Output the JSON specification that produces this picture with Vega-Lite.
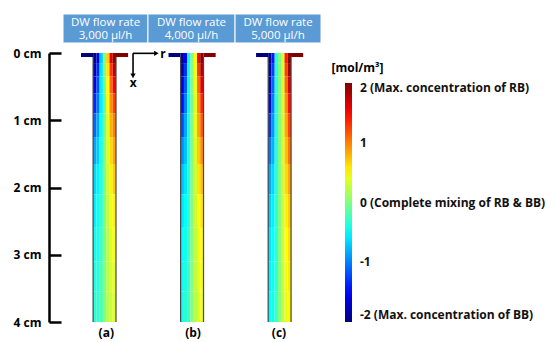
{
  "$schema": "https://vega.github.io/schema/vega-lite/v6.json",
  "width": 505,
  "height": 269,
  "autosize": {"type": "none"},
  "padding": {"left": 49, "top": 53, "right": 1, "bottom": 20},
  "background": "white",
  "config": {"font": "Open Sans", "view": {"stroke": null}},
  "datasets": {
    "heads": [
      {"x0": 2.08, "x1": 14.7, "y0": -0.58, "y1": -0.149},
      {"x0": 14.7, "x1": 27.63, "y0": -0.58, "y1": -0.149},
      {"x0": 27.63, "x1": 40.4, "y0": -0.58, "y1": -0.149}
    ],
    "htext": [
      {"xc": 8.39, "yc": -0.452, "t": "DW flow rate"},
      {"xc": 8.39, "yc": -0.248, "t": "3,000 μl/h"},
      {"xc": 21.16, "yc": -0.452, "t": "DW flow rate"},
      {"xc": 21.16, "yc": -0.248, "t": "4,000 μl/h"},
      {"xc": 34.01, "yc": -0.452, "t": "DW flow rate"},
      {"xc": 34.01, "yc": -0.248, "t": "5,000 μl/h"}
    ],
    "cells": [
      {"ch":"a","r0":4.75,"r1":6.55,"d0":0,"d1":0.06,"c":-2},
      {"ch":"a","r0":9.95,"r1":11.75,"d0":0,"d1":0.06,"c":2},
      {"ch":"b","r0":17.75,"r1":19.55,"d0":0,"d1":0.06,"c":-2},
      {"ch":"b","r0":22.95,"r1":24.75,"d0":0,"d1":0.06,"c":2},
      {"ch":"c","r0":30.75,"r1":32.55,"d0":0,"d1":0.06,"c":-2},
      {"ch":"c","r0":35.95,"r1":37.75,"d0":0,"d1":0.06,"c":2},

      {"ch":"a","r0":6.55,"r1":7.04,"d0":0,"d1":0.15,"c":-1.95},
      {"ch":"a","r0":7.04,"r1":7.52,"d0":0,"d1":0.15,"c":-1.6},
      {"ch":"a","r0":7.52,"r1":8.01,"d0":0,"d1":0.15,"c":-0.7},
      {"ch":"a","r0":8.01,"r1":8.49,"d0":0,"d1":0.15,"c":0},
      {"ch":"a","r0":8.49,"r1":8.98,"d0":0,"d1":0.15,"c":0.7},
      {"ch":"a","r0":8.98,"r1":9.46,"d0":0,"d1":0.15,"c":1.6},
      {"ch":"a","r0":9.46,"r1":9.95,"d0":0,"d1":0.15,"c":1.95},
      {"ch":"a","r0":6.55,"r1":7.04,"d0":0.15,"d1":0.35,"c":-1.8},
      {"ch":"a","r0":7.04,"r1":7.52,"d0":0.15,"d1":0.35,"c":-1.35},
      {"ch":"a","r0":7.52,"r1":8.01,"d0":0.15,"d1":0.35,"c":-0.6},
      {"ch":"a","r0":8.01,"r1":8.49,"d0":0.15,"d1":0.35,"c":0},
      {"ch":"a","r0":8.49,"r1":8.98,"d0":0.15,"d1":0.35,"c":0.6},
      {"ch":"a","r0":8.98,"r1":9.46,"d0":0.15,"d1":0.35,"c":1.3},
      {"ch":"a","r0":9.46,"r1":9.95,"d0":0.15,"d1":0.35,"c":1.75},
      {"ch":"a","r0":6.55,"r1":7.04,"d0":0.35,"d1":0.6,"c":-1.6},
      {"ch":"a","r0":7.04,"r1":7.52,"d0":0.35,"d1":0.6,"c":-1.2},
      {"ch":"a","r0":7.52,"r1":8.01,"d0":0.35,"d1":0.6,"c":-0.55},
      {"ch":"a","r0":8.01,"r1":8.49,"d0":0.35,"d1":0.6,"c":-0.05},
      {"ch":"a","r0":8.49,"r1":8.98,"d0":0.35,"d1":0.6,"c":0.5},
      {"ch":"a","r0":8.98,"r1":9.46,"d0":0.35,"d1":0.6,"c":1.1},
      {"ch":"a","r0":9.46,"r1":9.95,"d0":0.35,"d1":0.6,"c":1.5},
      {"ch":"a","r0":6.55,"r1":7.04,"d0":0.6,"d1":0.9,"c":-1.35},
      {"ch":"a","r0":7.04,"r1":7.52,"d0":0.6,"d1":0.9,"c":-1.05},
      {"ch":"a","r0":7.52,"r1":8.01,"d0":0.6,"d1":0.9,"c":-0.55},
      {"ch":"a","r0":8.01,"r1":8.49,"d0":0.6,"d1":0.9,"c":-0.1},
      {"ch":"a","r0":8.49,"r1":8.98,"d0":0.6,"d1":0.9,"c":0.45},
      {"ch":"a","r0":8.98,"r1":9.46,"d0":0.6,"d1":0.9,"c":0.95},
      {"ch":"a","r0":9.46,"r1":9.95,"d0":0.6,"d1":0.9,"c":1.25},
      {"ch":"a","r0":6.55,"r1":7.04,"d0":0.9,"d1":1.25,"c":-1.1},
      {"ch":"a","r0":7.04,"r1":7.52,"d0":0.9,"d1":1.25,"c":-0.85},
      {"ch":"a","r0":7.52,"r1":8.01,"d0":0.9,"d1":1.25,"c":-0.45},
      {"ch":"a","r0":8.01,"r1":8.49,"d0":0.9,"d1":1.25,"c":-0.05},
      {"ch":"a","r0":8.49,"r1":8.98,"d0":0.9,"d1":1.25,"c":0.4},
      {"ch":"a","r0":8.98,"r1":9.46,"d0":0.9,"d1":1.25,"c":0.8},
      {"ch":"a","r0":9.46,"r1":9.95,"d0":0.9,"d1":1.25,"c":1.0},
      {"ch":"a","r0":6.55,"r1":7.04,"d0":1.25,"d1":1.65,"c":-0.85},
      {"ch":"a","r0":7.04,"r1":7.52,"d0":1.25,"d1":1.65,"c":-0.7},
      {"ch":"a","r0":7.52,"r1":8.01,"d0":1.25,"d1":1.65,"c":-0.4},
      {"ch":"a","r0":8.01,"r1":8.49,"d0":1.25,"d1":1.65,"c":0},
      {"ch":"a","r0":8.49,"r1":8.98,"d0":1.25,"d1":1.65,"c":0.35},
      {"ch":"a","r0":8.98,"r1":9.46,"d0":1.25,"d1":1.65,"c":0.65},
      {"ch":"a","r0":9.46,"r1":9.95,"d0":1.25,"d1":1.65,"c":0.85},
      {"ch":"a","r0":6.55,"r1":7.04,"d0":1.65,"d1":2.1,"c":-0.65},
      {"ch":"a","r0":7.04,"r1":7.52,"d0":1.65,"d1":2.1,"c":-0.55},
      {"ch":"a","r0":7.52,"r1":8.01,"d0":1.65,"d1":2.1,"c":-0.35},
      {"ch":"a","r0":8.01,"r1":8.49,"d0":1.65,"d1":2.1,"c":0},
      {"ch":"a","r0":8.49,"r1":8.98,"d0":1.65,"d1":2.1,"c":0.3},
      {"ch":"a","r0":8.98,"r1":9.46,"d0":1.65,"d1":2.1,"c":0.55},
      {"ch":"a","r0":9.46,"r1":9.95,"d0":1.65,"d1":2.1,"c":0.7},
      {"ch":"a","r0":6.55,"r1":7.04,"d0":2.1,"d1":2.6,"c":-0.55},
      {"ch":"a","r0":7.04,"r1":7.52,"d0":2.1,"d1":2.6,"c":-0.45},
      {"ch":"a","r0":7.52,"r1":8.01,"d0":2.1,"d1":2.6,"c":-0.3},
      {"ch":"a","r0":8.01,"r1":8.49,"d0":2.1,"d1":2.6,"c":0},
      {"ch":"a","r0":8.49,"r1":8.98,"d0":2.1,"d1":2.6,"c":0.25},
      {"ch":"a","r0":8.98,"r1":9.46,"d0":2.1,"d1":2.6,"c":0.45},
      {"ch":"a","r0":9.46,"r1":9.95,"d0":2.1,"d1":2.6,"c":0.55},
      {"ch":"a","r0":6.55,"r1":7.04,"d0":2.6,"d1":3.1,"c":-0.45},
      {"ch":"a","r0":7.04,"r1":7.52,"d0":2.6,"d1":3.1,"c":-0.4},
      {"ch":"a","r0":7.52,"r1":8.01,"d0":2.6,"d1":3.1,"c":-0.25},
      {"ch":"a","r0":8.01,"r1":8.49,"d0":2.6,"d1":3.1,"c":0},
      {"ch":"a","r0":8.49,"r1":8.98,"d0":2.6,"d1":3.1,"c":0.2},
      {"ch":"a","r0":8.98,"r1":9.46,"d0":2.6,"d1":3.1,"c":0.4},
      {"ch":"a","r0":9.46,"r1":9.95,"d0":2.6,"d1":3.1,"c":0.48},
      {"ch":"a","r0":6.55,"r1":7.04,"d0":3.1,"d1":3.55,"c":-0.4},
      {"ch":"a","r0":7.04,"r1":7.52,"d0":3.1,"d1":3.55,"c":-0.35},
      {"ch":"a","r0":7.52,"r1":8.01,"d0":3.1,"d1":3.55,"c":-0.2},
      {"ch":"a","r0":8.01,"r1":8.49,"d0":3.1,"d1":3.55,"c":0},
      {"ch":"a","r0":8.49,"r1":8.98,"d0":3.1,"d1":3.55,"c":0.2},
      {"ch":"a","r0":8.98,"r1":9.46,"d0":3.1,"d1":3.55,"c":0.35},
      {"ch":"a","r0":9.46,"r1":9.95,"d0":3.1,"d1":3.55,"c":0.42},
      {"ch":"a","r0":6.55,"r1":7.04,"d0":3.55,"d1":4,"c":-0.35},
      {"ch":"a","r0":7.04,"r1":7.52,"d0":3.55,"d1":4,"c":-0.3},
      {"ch":"a","r0":7.52,"r1":8.01,"d0":3.55,"d1":4,"c":-0.2},
      {"ch":"a","r0":8.01,"r1":8.49,"d0":3.55,"d1":4,"c":0},
      {"ch":"a","r0":8.49,"r1":8.98,"d0":3.55,"d1":4,"c":0.2},
      {"ch":"a","r0":8.98,"r1":9.46,"d0":3.55,"d1":4,"c":0.3},
      {"ch":"a","r0":9.46,"r1":9.95,"d0":3.55,"d1":4,"c":0.38},

      {"ch":"b","r0":19.55,"r1":20.04,"d0":0,"d1":0.15,"c":-1.95},
      {"ch":"b","r0":20.04,"r1":20.52,"d0":0,"d1":0.15,"c":-1.5},
      {"ch":"b","r0":20.52,"r1":21.01,"d0":0,"d1":0.15,"c":-0.5},
      {"ch":"b","r0":21.01,"r1":21.49,"d0":0,"d1":0.15,"c":0},
      {"ch":"b","r0":21.49,"r1":21.98,"d0":0,"d1":0.15,"c":0.5},
      {"ch":"b","r0":21.98,"r1":22.46,"d0":0,"d1":0.15,"c":1.5},
      {"ch":"b","r0":22.46,"r1":22.95,"d0":0,"d1":0.15,"c":1.95},
      {"ch":"b","r0":19.55,"r1":20.04,"d0":0.15,"d1":0.35,"c":-1.85},
      {"ch":"b","r0":20.04,"r1":20.52,"d0":0.15,"d1":0.35,"c":-1.3},
      {"ch":"b","r0":20.52,"r1":21.01,"d0":0.15,"d1":0.35,"c":-0.45},
      {"ch":"b","r0":21.01,"r1":21.49,"d0":0.15,"d1":0.35,"c":0},
      {"ch":"b","r0":21.49,"r1":21.98,"d0":0.15,"d1":0.35,"c":0.45},
      {"ch":"b","r0":21.98,"r1":22.46,"d0":0.15,"d1":0.35,"c":1.3},
      {"ch":"b","r0":22.46,"r1":22.95,"d0":0.15,"d1":0.35,"c":1.8},
      {"ch":"b","r0":19.55,"r1":20.04,"d0":0.35,"d1":0.6,"c":-1.65},
      {"ch":"b","r0":20.04,"r1":20.52,"d0":0.35,"d1":0.6,"c":-1.15},
      {"ch":"b","r0":20.52,"r1":21.01,"d0":0.35,"d1":0.6,"c":-0.45},
      {"ch":"b","r0":21.01,"r1":21.49,"d0":0.35,"d1":0.6,"c":0},
      {"ch":"b","r0":21.49,"r1":21.98,"d0":0.35,"d1":0.6,"c":0.45},
      {"ch":"b","r0":21.98,"r1":22.46,"d0":0.35,"d1":0.6,"c":1.1},
      {"ch":"b","r0":22.46,"r1":22.95,"d0":0.35,"d1":0.6,"c":1.6},
      {"ch":"b","r0":19.55,"r1":20.04,"d0":0.6,"d1":0.9,"c":-1.45},
      {"ch":"b","r0":20.04,"r1":20.52,"d0":0.6,"d1":0.9,"c":-1.0},
      {"ch":"b","r0":20.52,"r1":21.01,"d0":0.6,"d1":0.9,"c":-0.45},
      {"ch":"b","r0":21.01,"r1":21.49,"d0":0.6,"d1":0.9,"c":-0.05},
      {"ch":"b","r0":21.49,"r1":21.98,"d0":0.6,"d1":0.9,"c":0.4},
      {"ch":"b","r0":21.98,"r1":22.46,"d0":0.6,"d1":0.9,"c":0.95},
      {"ch":"b","r0":22.46,"r1":22.95,"d0":0.6,"d1":0.9,"c":1.35},
      {"ch":"b","r0":19.55,"r1":20.04,"d0":0.9,"d1":1.25,"c":-1.2},
      {"ch":"b","r0":20.04,"r1":20.52,"d0":0.9,"d1":1.25,"c":-0.85},
      {"ch":"b","r0":20.52,"r1":21.01,"d0":0.9,"d1":1.25,"c":-0.4},
      {"ch":"b","r0":21.01,"r1":21.49,"d0":0.9,"d1":1.25,"c":0},
      {"ch":"b","r0":21.49,"r1":21.98,"d0":0.9,"d1":1.25,"c":0.4},
      {"ch":"b","r0":21.98,"r1":22.46,"d0":0.9,"d1":1.25,"c":0.85},
      {"ch":"b","r0":22.46,"r1":22.95,"d0":0.9,"d1":1.25,"c":1.15},
      {"ch":"b","r0":19.55,"r1":20.04,"d0":1.25,"d1":1.65,"c":-0.95},
      {"ch":"b","r0":20.04,"r1":20.52,"d0":1.25,"d1":1.65,"c":-0.75},
      {"ch":"b","r0":20.52,"r1":21.01,"d0":1.25,"d1":1.65,"c":-0.4},
      {"ch":"b","r0":21.01,"r1":21.49,"d0":1.25,"d1":1.65,"c":0},
      {"ch":"b","r0":21.49,"r1":21.98,"d0":1.25,"d1":1.65,"c":0.35},
      {"ch":"b","r0":21.98,"r1":22.46,"d0":1.25,"d1":1.65,"c":0.7},
      {"ch":"b","r0":22.46,"r1":22.95,"d0":1.25,"d1":1.65,"c":0.95},
      {"ch":"b","r0":19.55,"r1":20.04,"d0":1.65,"d1":2.1,"c":-0.75},
      {"ch":"b","r0":20.04,"r1":20.52,"d0":1.65,"d1":2.1,"c":-0.6},
      {"ch":"b","r0":20.52,"r1":21.01,"d0":1.65,"d1":2.1,"c":-0.35},
      {"ch":"b","r0":21.01,"r1":21.49,"d0":1.65,"d1":2.1,"c":0},
      {"ch":"b","r0":21.49,"r1":21.98,"d0":1.65,"d1":2.1,"c":0.3},
      {"ch":"b","r0":21.98,"r1":22.46,"d0":1.65,"d1":2.1,"c":0.6},
      {"ch":"b","r0":22.46,"r1":22.95,"d0":1.65,"d1":2.1,"c":0.75},
      {"ch":"b","r0":19.55,"r1":20.04,"d0":2.1,"d1":2.6,"c":-0.6},
      {"ch":"b","r0":20.04,"r1":20.52,"d0":2.1,"d1":2.6,"c":-0.5},
      {"ch":"b","r0":20.52,"r1":21.01,"d0":2.1,"d1":2.6,"c":-0.3},
      {"ch":"b","r0":21.01,"r1":21.49,"d0":2.1,"d1":2.6,"c":0},
      {"ch":"b","r0":21.49,"r1":21.98,"d0":2.1,"d1":2.6,"c":0.3},
      {"ch":"b","r0":21.98,"r1":22.46,"d0":2.1,"d1":2.6,"c":0.5},
      {"ch":"b","r0":22.46,"r1":22.95,"d0":2.1,"d1":2.6,"c":0.6},
      {"ch":"b","r0":19.55,"r1":20.04,"d0":2.6,"d1":3.1,"c":-0.5},
      {"ch":"b","r0":20.04,"r1":20.52,"d0":2.6,"d1":3.1,"c":-0.45},
      {"ch":"b","r0":20.52,"r1":21.01,"d0":2.6,"d1":3.1,"c":-0.25},
      {"ch":"b","r0":21.01,"r1":21.49,"d0":2.6,"d1":3.1,"c":0},
      {"ch":"b","r0":21.49,"r1":21.98,"d0":2.6,"d1":3.1,"c":0.25},
      {"ch":"b","r0":21.98,"r1":22.46,"d0":2.6,"d1":3.1,"c":0.45},
      {"ch":"b","r0":22.46,"r1":22.95,"d0":2.6,"d1":3.1,"c":0.52},
      {"ch":"b","r0":19.55,"r1":20.04,"d0":3.1,"d1":3.55,"c":-0.45},
      {"ch":"b","r0":20.04,"r1":20.52,"d0":3.1,"d1":3.55,"c":-0.4},
      {"ch":"b","r0":20.52,"r1":21.01,"d0":3.1,"d1":3.55,"c":-0.25},
      {"ch":"b","r0":21.01,"r1":21.49,"d0":3.1,"d1":3.55,"c":0},
      {"ch":"b","r0":21.49,"r1":21.98,"d0":3.1,"d1":3.55,"c":0.25},
      {"ch":"b","r0":21.98,"r1":22.46,"d0":3.1,"d1":3.55,"c":0.4},
      {"ch":"b","r0":22.46,"r1":22.95,"d0":3.1,"d1":3.55,"c":0.47},
      {"ch":"b","r0":19.55,"r1":20.04,"d0":3.55,"d1":4,"c":-0.42},
      {"ch":"b","r0":20.04,"r1":20.52,"d0":3.55,"d1":4,"c":-0.36},
      {"ch":"b","r0":20.52,"r1":21.01,"d0":3.55,"d1":4,"c":-0.22},
      {"ch":"b","r0":21.01,"r1":21.49,"d0":3.55,"d1":4,"c":0},
      {"ch":"b","r0":21.49,"r1":21.98,"d0":3.55,"d1":4,"c":0.22},
      {"ch":"b","r0":21.98,"r1":22.46,"d0":3.55,"d1":4,"c":0.36},
      {"ch":"b","r0":22.46,"r1":22.95,"d0":3.55,"d1":4,"c":0.44},

      {"ch":"c","r0":32.55,"r1":33.04,"d0":0,"d1":0.15,"c":-1.95},
      {"ch":"c","r0":33.04,"r1":33.52,"d0":0,"d1":0.15,"c":-1.4},
      {"ch":"c","r0":33.52,"r1":34.01,"d0":0,"d1":0.15,"c":-0.35},
      {"ch":"c","r0":34.01,"r1":34.49,"d0":0,"d1":0.15,"c":0},
      {"ch":"c","r0":34.49,"r1":34.98,"d0":0,"d1":0.15,"c":0.35},
      {"ch":"c","r0":34.98,"r1":35.46,"d0":0,"d1":0.15,"c":1.4},
      {"ch":"c","r0":35.46,"r1":35.95,"d0":0,"d1":0.15,"c":1.95},
      {"ch":"c","r0":32.55,"r1":33.04,"d0":0.15,"d1":0.35,"c":-1.85},
      {"ch":"c","r0":33.04,"r1":33.52,"d0":0.15,"d1":0.35,"c":-1.25},
      {"ch":"c","r0":33.52,"r1":34.01,"d0":0.15,"d1":0.35,"c":-0.35},
      {"ch":"c","r0":34.01,"r1":34.49,"d0":0.15,"d1":0.35,"c":0},
      {"ch":"c","r0":34.49,"r1":34.98,"d0":0.15,"d1":0.35,"c":0.35},
      {"ch":"c","r0":34.98,"r1":35.46,"d0":0.15,"d1":0.35,"c":1.25},
      {"ch":"c","r0":35.46,"r1":35.95,"d0":0.15,"d1":0.35,"c":1.85},
      {"ch":"c","r0":32.55,"r1":33.04,"d0":0.35,"d1":0.6,"c":-1.7},
      {"ch":"c","r0":33.04,"r1":33.52,"d0":0.35,"d1":0.6,"c":-1.1},
      {"ch":"c","r0":33.52,"r1":34.01,"d0":0.35,"d1":0.6,"c":-0.35},
      {"ch":"c","r0":34.01,"r1":34.49,"d0":0.35,"d1":0.6,"c":0},
      {"ch":"c","r0":34.49,"r1":34.98,"d0":0.35,"d1":0.6,"c":0.35},
      {"ch":"c","r0":34.98,"r1":35.46,"d0":0.35,"d1":0.6,"c":1.1},
      {"ch":"c","r0":35.46,"r1":35.95,"d0":0.35,"d1":0.6,"c":1.65},
      {"ch":"c","r0":32.55,"r1":33.04,"d0":0.6,"d1":0.9,"c":-1.5},
      {"ch":"c","r0":33.04,"r1":33.52,"d0":0.6,"d1":0.9,"c":-1.0},
      {"ch":"c","r0":33.52,"r1":34.01,"d0":0.6,"d1":0.9,"c":-0.35},
      {"ch":"c","r0":34.01,"r1":34.49,"d0":0.6,"d1":0.9,"c":0},
      {"ch":"c","r0":34.49,"r1":34.98,"d0":0.6,"d1":0.9,"c":0.35},
      {"ch":"c","r0":34.98,"r1":35.46,"d0":0.6,"d1":0.9,"c":0.95},
      {"ch":"c","r0":35.46,"r1":35.95,"d0":0.6,"d1":0.9,"c":1.45},
      {"ch":"c","r0":32.55,"r1":33.04,"d0":0.9,"d1":1.25,"c":-1.3},
      {"ch":"c","r0":33.04,"r1":33.52,"d0":0.9,"d1":1.25,"c":-0.9},
      {"ch":"c","r0":33.52,"r1":34.01,"d0":0.9,"d1":1.25,"c":-0.35},
      {"ch":"c","r0":34.01,"r1":34.49,"d0":0.9,"d1":1.25,"c":0},
      {"ch":"c","r0":34.49,"r1":34.98,"d0":0.9,"d1":1.25,"c":0.35},
      {"ch":"c","r0":34.98,"r1":35.46,"d0":0.9,"d1":1.25,"c":0.85},
      {"ch":"c","r0":35.46,"r1":35.95,"d0":0.9,"d1":1.25,"c":1.25},
      {"ch":"c","r0":32.55,"r1":33.04,"d0":1.25,"d1":1.65,"c":-1.05},
      {"ch":"c","r0":33.04,"r1":33.52,"d0":1.25,"d1":1.65,"c":-0.8},
      {"ch":"c","r0":33.52,"r1":34.01,"d0":1.25,"d1":1.65,"c":-0.35},
      {"ch":"c","r0":34.01,"r1":34.49,"d0":1.25,"d1":1.65,"c":0},
      {"ch":"c","r0":34.49,"r1":34.98,"d0":1.25,"d1":1.65,"c":0.35},
      {"ch":"c","r0":34.98,"r1":35.46,"d0":1.25,"d1":1.65,"c":0.75},
      {"ch":"c","r0":35.46,"r1":35.95,"d0":1.25,"d1":1.65,"c":1.05},
      {"ch":"c","r0":32.55,"r1":33.04,"d0":1.65,"d1":2.1,"c":-0.85},
      {"ch":"c","r0":33.04,"r1":33.52,"d0":1.65,"d1":2.1,"c":-0.65},
      {"ch":"c","r0":33.52,"r1":34.01,"d0":1.65,"d1":2.1,"c":-0.35},
      {"ch":"c","r0":34.01,"r1":34.49,"d0":1.65,"d1":2.1,"c":0},
      {"ch":"c","r0":34.49,"r1":34.98,"d0":1.65,"d1":2.1,"c":0.3},
      {"ch":"c","r0":34.98,"r1":35.46,"d0":1.65,"d1":2.1,"c":0.65},
      {"ch":"c","r0":35.46,"r1":35.95,"d0":1.65,"d1":2.1,"c":0.85},
      {"ch":"c","r0":32.55,"r1":33.04,"d0":2.1,"d1":2.6,"c":-0.7},
      {"ch":"c","r0":33.04,"r1":33.52,"d0":2.1,"d1":2.6,"c":-0.55},
      {"ch":"c","r0":33.52,"r1":34.01,"d0":2.1,"d1":2.6,"c":-0.3},
      {"ch":"c","r0":34.01,"r1":34.49,"d0":2.1,"d1":2.6,"c":0},
      {"ch":"c","r0":34.49,"r1":34.98,"d0":2.1,"d1":2.6,"c":0.3},
      {"ch":"c","r0":34.98,"r1":35.46,"d0":2.1,"d1":2.6,"c":0.55},
      {"ch":"c","r0":35.46,"r1":35.95,"d0":2.1,"d1":2.6,"c":0.7},
      {"ch":"c","r0":32.55,"r1":33.04,"d0":2.6,"d1":3.1,"c":-0.6},
      {"ch":"c","r0":33.04,"r1":33.52,"d0":2.6,"d1":3.1,"c":-0.5},
      {"ch":"c","r0":33.52,"r1":34.01,"d0":2.6,"d1":3.1,"c":-0.3},
      {"ch":"c","r0":34.01,"r1":34.49,"d0":2.6,"d1":3.1,"c":0},
      {"ch":"c","r0":34.49,"r1":34.98,"d0":2.6,"d1":3.1,"c":0.3},
      {"ch":"c","r0":34.98,"r1":35.46,"d0":2.6,"d1":3.1,"c":0.5},
      {"ch":"c","r0":35.46,"r1":35.95,"d0":2.6,"d1":3.1,"c":0.62},
      {"ch":"c","r0":32.55,"r1":33.04,"d0":3.1,"d1":3.55,"c":-0.55},
      {"ch":"c","r0":33.04,"r1":33.52,"d0":3.1,"d1":3.55,"c":-0.45},
      {"ch":"c","r0":33.52,"r1":34.01,"d0":3.1,"d1":3.55,"c":-0.28},
      {"ch":"c","r0":34.01,"r1":34.49,"d0":3.1,"d1":3.55,"c":0},
      {"ch":"c","r0":34.49,"r1":34.98,"d0":3.1,"d1":3.55,"c":0.28},
      {"ch":"c","r0":34.98,"r1":35.46,"d0":3.1,"d1":3.55,"c":0.45},
      {"ch":"c","r0":35.46,"r1":35.95,"d0":3.1,"d1":3.55,"c":0.57},
      {"ch":"c","r0":32.55,"r1":33.04,"d0":3.55,"d1":4,"c":-0.5},
      {"ch":"c","r0":33.04,"r1":33.52,"d0":3.55,"d1":4,"c":-0.42},
      {"ch":"c","r0":33.52,"r1":34.01,"d0":3.55,"d1":4,"c":-0.25},
      {"ch":"c","r0":34.01,"r1":34.49,"d0":3.55,"d1":4,"c":0},
      {"ch":"c","r0":34.49,"r1":34.98,"d0":3.55,"d1":4,"c":0.25},
      {"ch":"c","r0":34.98,"r1":35.46,"d0":3.55,"d1":4,"c":0.42},
      {"ch":"c","r0":35.46,"r1":35.95,"d0":3.55,"d1":4,"c":0.52}
    ],
    "edges": [
      {"x0": 6.55, "x1": 6.55, "y0": 0.06, "y1": 4},
      {"x0": 9.95, "x1": 9.95, "y0": 0.06, "y1": 4},
      {"x0": 19.55, "x1": 19.55, "y0": 0.06, "y1": 4},
      {"x0": 22.95, "x1": 22.95, "y0": 0.06, "y1": 4},
      {"x0": 32.55, "x1": 32.55, "y0": 0.06, "y1": 4},
      {"x0": 35.95, "x1": 35.95, "y0": 0.06, "y1": 4}
    ],
    "arrows": [
      {"x0": 12.48, "x1": 15.8, "y0": 0.005, "y1": 0.005},
      {"x0": 12.48, "x1": 12.48, "y0": 0.005, "y1": 0.32}
    ],
    "heads2": [
      {"x": 15.95, "y": 0.005, "s": "triangle-right"},
      {"x": 12.48, "y": 0.34, "s": "triangle-down"}
    ],
    "labels": [
      {"t": "(a)", "x": 8.51, "y": 4.16},
      {"t": "(b)", "x": 21.39, "y": 4.16},
      {"t": "(c)", "x": 34.16, "y": 4.16},
      {"t": "r", "x": 16.93, "y": 0.012},
      {"t": "x", "x": 12.52, "y": 0.45},
      {"t": "[mol/m³]", "x": 45.82, "y": 0.223}
    ]
  },
  "layer": [
    {
      "data": {"name": "heads"},
      "mark": {"type": "rect", "fill": "#5b9bd5", "stroke": "white", "strokeWidth": 1},
      "encoding": {
        "x": {"field": "x0", "type": "quantitative", "scale": {"domain": [0, 75], "nice": false, "zero": false}, "axis": null},
        "x2": {"field": "x1"},
        "y": {"field": "y0", "type": "quantitative", "scale": {"domain": [0, 4], "nice": false, "zero": false, "reverse": true},
          "axis": {"values": [0, 1, 2, 3, 4], "labelExpr": "datum.value + ' cm'", "title": null, "grid": false,
            "domainColor": "black", "domainWidth": 2.5, "tickColor": "black", "tickWidth": 2.5, "tickSize": -12,
            "labelPadding": 20, "labelFontSize": 12, "labelFontWeight": "bold", "labelColor": "black", "labelFont": "Open Sans"}},
        "y2": {"field": "y1"}
      }
    },
    {
      "data": {"name": "htext"},
      "mark": {"type": "text", "color": "white", "fontSize": 11.5, "baseline": "middle", "align": "center"},
      "encoding": {
        "x": {"field": "xc", "type": "quantitative"},
        "y": {"field": "yc", "type": "quantitative"},
        "text": {"field": "t"}
      }
    },
    {
      "data": {"name": "cells"},
      "mark": {"type": "rect"},
      "encoding": {
        "x": {"field": "r0", "type": "quantitative"},
        "x2": {"field": "r1"},
        "y": {"field": "d0", "type": "quantitative"},
        "y2": {"field": "d1"},
        "color": {"field": "c", "type": "quantitative",
          "scale": {"domain": [-2, -1.5, -1, -0.5, 0, 0.5, 1, 1.5, 2],
            "range": ["#00007f", "#0000ff", "#0080ff", "#00ffff", "#80ff80", "#ffff00", "#ff8000", "#ff0000", "#7f0000"],
            "interpolate": "rgb"},
          "legend": {"orient": "none", "legendX": 296, "legendY": 30, "direction": "vertical", "gradientLength": 239,
            "gradientThickness": 7, "gradientStrokeWidth": 0, "values": [-2, -1, 0, 1, 2], "title": null, "padding": 0,
            "labelExpr": "datum.value == 2 ? '2 (Max. concentration of RB)' : datum.value == 0 ? '0 (Complete mixing of RB & BB)' : datum.value == -2 ? '-2 (Max. concentration of BB)' : '' + datum.value",
            "labelFont": "Open Sans", "labelFontSize": 12, "labelFontWeight": "bold", "labelColor": "#111111", "labelOffset": 8, "labelLimit": 260}
        }
      }
    },
    {
      "data": {"name": "edges"},
      "mark": {"type": "rule", "color": "#444444", "strokeWidth": 1.2},
      "encoding": {
        "x": {"field": "x0", "type": "quantitative"},
        "x2": {"field": "x1"},
        "y": {"field": "y0", "type": "quantitative"},
        "y2": {"field": "y1"}
      }
    },
    {
      "data": {"name": "arrows"},
      "mark": {"type": "rule", "color": "black", "strokeWidth": 1.6},
      "encoding": {
        "x": {"field": "x0", "type": "quantitative"},
        "x2": {"field": "x1"},
        "y": {"field": "y0", "type": "quantitative"},
        "y2": {"field": "y1"}
      }
    },
    {
      "data": {"name": "heads2"},
      "mark": {"type": "point", "filled": true, "color": "black", "size": 28, "opacity": 1},
      "encoding": {
        "x": {"field": "x", "type": "quantitative"},
        "y": {"field": "y", "type": "quantitative"},
        "shape": {"field": "s", "type": "nominal", "scale": null}
      }
    },
    {
      "data": {"name": "labels"},
      "mark": {"type": "text", "color": "black", "fontSize": 12, "fontWeight": "bold", "baseline": "middle", "align": "center"},
      "encoding": {
        "x": {"field": "x", "type": "quantitative"},
        "y": {"field": "y", "type": "quantitative"},
        "text": {"field": "t"}
      }
    }
  ]
}
